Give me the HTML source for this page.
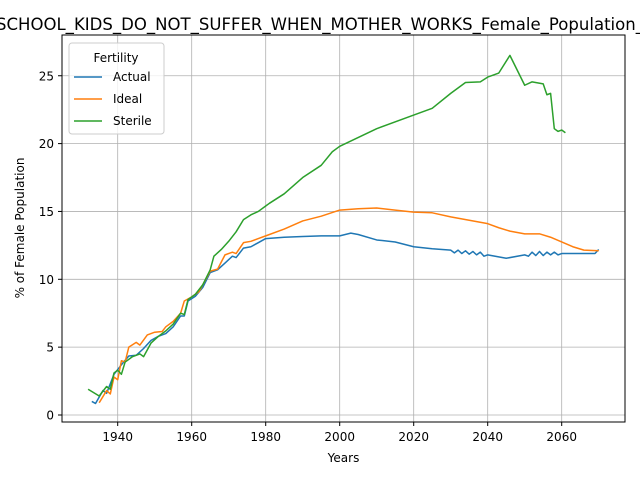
<!DOCTYPE html>
<html><head><meta charset="utf-8"><style>
body{margin:0;background:#fff}
svg{display:block;font-family:"DejaVu Sans","Liberation Sans",sans-serif}
</style></head><body>
<svg id="chart" width="640" height="480" viewBox="0 0 640 480">
<rect width="640" height="480" fill="#fff"/>
<text x="-4" y="30" font-size="16.5" textLength="648" lengthAdjust="spacingAndGlyphs" fill="#000">SCHOOL_KIDS_DO_NOT_SUFFER_WHEN_MOTHER_WORKS_Female_Population_</text>
<g id="grid"></g>
<g id="series"></g>
<rect x="62" y="35" width="563" height="387" fill="none" stroke="#000" stroke-width="1"/>
<g id="ticks"></g>
<text x="343.5" y="462" font-size="12" text-anchor="middle">Years</text>
<text x="0" y="0" font-size="12" text-anchor="middle" transform="translate(24,228) rotate(-90)">% of Female Population</text>
<g>
<rect x="69" y="43" width="95" height="91" rx="3" fill="#fff" fill-opacity="0.8" stroke="#ccc"/>
<text x="116" y="62" font-size="12" text-anchor="middle">Fertility</text>
<g><line x1="74" y1="77" x2="102" y2="77" stroke="#1f77b4" stroke-width="1.5"/><text x="113" y="81" font-size="12">Actual</text></g>
<g><line x1="74" y1="99" x2="102" y2="99" stroke="#ff7f0e" stroke-width="1.5"/><text x="113" y="103" font-size="12">Ideal</text></g>
<g><line x1="74" y1="121" x2="102" y2="121" stroke="#2ca02c" stroke-width="1.5"/><text x="113" y="125" font-size="12">Sterile</text></g>
</g>
</svg>
<script>
const xTicks=[1940,1960,1980,2000,2020,2040,2060];
const yTicks=[0,5,10,15,20,25];
const actualYears=[1933,1934,1936,1937,1939,1941,1943,1945,1947,1949,1951,1953,1955,1957,1958,1959,1961,1963,1965,1967,1969,1971,1972,1974,1976,1978,1980,1985,1990,1995,2000,2003,2005,2010,2015,2020,2025,2030,2031,2032,2033,2034,2035,2036,2037,2038,2039,2040,2045,2050,2051,2052,2053,2054,2055,2056,2057,2058,2059,2060,2065,2069,2070];
const actualValues=[1.0,0.85,1.8,1.6,3.0,3.7,4.35,4.4,4.9,5.5,5.8,6.0,6.5,7.3,7.3,8.4,8.75,9.4,10.5,10.7,11.2,11.7,11.6,12.3,12.4,12.7,13.0,13.1,13.15,13.2,13.2,13.4,13.3,12.9,12.75,12.4,12.25,12.15,11.95,12.15,11.9,12.1,11.85,12.05,11.8,12.0,11.7,11.8,11.55,11.8,11.7,12.0,11.75,12.05,11.75,12.0,11.8,12.0,11.8,11.9,11.9,11.9,12.2];
const idealYears=[1935,1937,1938,1939,1940,1941,1942,1943,1945,1946,1948,1950,1952,1953,1955,1957,1958,1960,1962,1964,1965,1967,1969,1971,1972,1974,1976,1978,1980,1985,1990,1995,2000,2005,2010,2015,2020,2025,2030,2035,2040,2043,2046,2050,2054,2057,2060,2063,2066,2070];
const idealValues=[0.9,1.8,1.55,2.8,2.6,4.0,3.9,5.0,5.35,5.15,5.9,6.1,6.15,6.5,6.9,7.5,8.4,8.7,9.1,10.1,10.6,10.75,11.8,12.0,11.9,12.7,12.8,13.0,13.2,13.7,14.3,14.65,15.1,15.2,15.25,15.1,14.95,14.9,14.6,14.35,14.1,13.8,13.55,13.35,13.35,13.1,12.75,12.4,12.15,12.1];
const sterileYears=[1932,1935,1937,1938,1939,1940,1941,1942,1944,1946,1947,1949,1951,1953,1955,1957,1958,1959,1961,1963,1965,1966,1968,1970,1972,1974,1976,1978,1980,1981,1985,1990,1995,1998,2000,2010,2020,2025,2030,2034,2038,2040,2043,2046,2050,2052,2055,2056,2057,2058,2059,2060,2061];
const sterileValues=[1.9,1.4,2.1,1.9,3.1,3.3,3.0,3.9,4.3,4.5,4.3,5.3,5.8,6.2,6.7,7.5,7.4,8.5,8.9,9.6,10.7,11.7,12.2,12.8,13.5,14.4,14.75,15.0,15.4,15.6,16.3,17.5,18.4,19.4,19.8,21.1,22.1,22.6,23.7,24.5,24.55,24.9,25.2,26.5,24.3,24.55,24.4,23.6,23.7,21.1,20.9,21.0,20.8];
const NS="http://www.w3.org/2000/svg";
const X=y=>117.7+(y-1940)*3.7;
const Y=v=>415-v*13.57;
const grid=document.getElementById('grid'),ticks=document.getElementById('ticks'),ser=document.getElementById('series');
function mk(tag,attrs,parent){const e=document.createElementNS(NS,tag);for(const k in attrs)e.setAttribute(k,attrs[k]);parent.appendChild(e);return e;}
xTicks.forEach(t=>{
  const g=mk('line',{x1:X(t),x2:X(t),y1:35,y2:422,stroke:'#b0b0b0','stroke-width':0.8},grid);
  
  
  mk('line',{x1:X(t),x2:X(t),y1:422,y2:426,stroke:'#000'},ticks);
  const tx=mk('text',{x:X(t),y:441,'font-size':12,'text-anchor':'middle'},ticks);
  tx.textContent=t;
  
  
});
yTicks.forEach(t=>{
  const g=mk('line',{x1:62,x2:625,y1:Y(t),y2:Y(t),stroke:'#b0b0b0','stroke-width':0.8},grid);
  
  
  mk('line',{x1:58,x2:62,y1:Y(t),y2:Y(t),stroke:'#000'},ticks);
  const tx=mk('text',{x:54,y:Y(t)+4.5,'font-size':12,'text-anchor':'end'},ticks);
  tx.textContent=t;
  
  
});
function line(xs,vs,color,name){
  const p=mk('polyline',{points:xs.map((y,i)=>X(y)+','+Y(vs[i])).join(' '),fill:'none',stroke:color,'stroke-width':1.5,'stroke-linejoin':'round'},ser);
  
  
}
line(actualYears,actualValues,'#1f77b4','actual-line');
line(idealYears,idealValues,'#ff7f0e','ideal-line');
line(sterileYears,sterileValues,'#2ca02c','sterile-line');
</script>
</body></html>
